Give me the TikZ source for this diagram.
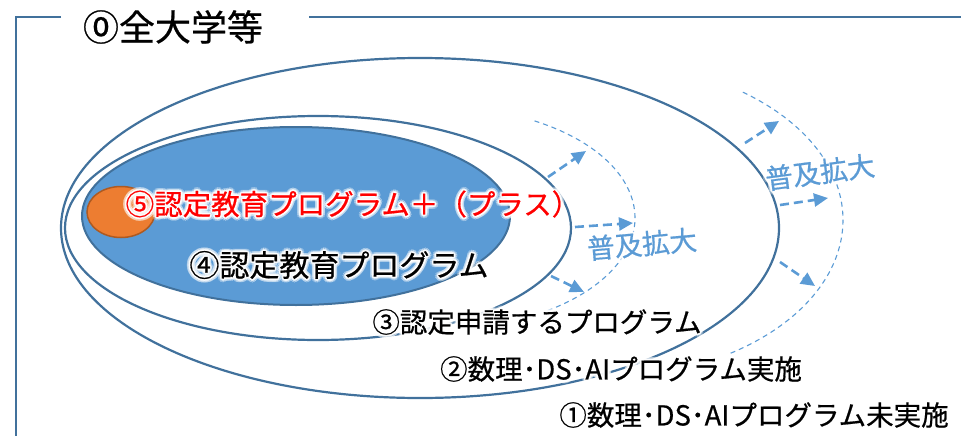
\documentclass[tikz,border=0pt]{standalone}
\usepackage{fontspec}
\setmainfont{Noto Sans CJK JP}[FakeBold=0.6]
\usetikzlibrary{arrows.meta,calc}
\definecolor{lineblue}{HTML}{41719C}
\definecolor{fillblue}{HTML}{5B9BD5}
\definecolor{orfill}{HTML}{ED7D31}
\definecolor{ordraw}{HTML}{AE5A21}
\definecolor{redtxt}{HTML}{FF0000}
\newcommand{\glowlabel}[5]{%
  \foreach \ang in {0,30,...,330}{%
    \node[#3, text=white, opacity=0.3, rotate=#5] (#1-o\ang) at ($(#2)+(\ang:3.6)$) {#4};
    \node[#3, text=white, opacity=0.6, rotate=#5] (#1-i\ang) at ($(#2)+(\ang:1.8)$) {#4};
  }%
  \node[#3, rotate=#5] (#1) at (#2) {#4};
}
\tikzset{
  frameline/.style={draw=lineblue, line width=2.3pt},
  setline/.style={draw=lineblue, line width=2.2pt},
  spread/.style={draw=fillblue, line width=2.6pt, dash pattern=on 9pt off 5pt,
    -{Triangle[length=14pt,width=13pt]}},
  rim/.style={draw=fillblue, line width=1.1pt, dash pattern=on 5pt off 4pt},
  lbl/.style={inner sep=0pt, font=\fontsize{27.5}{30}\selectfont},
  lblbig/.style={inner sep=0pt, font=\fontsize{30}{32}\selectfont},
  lblspread/.style={inner sep=0pt, text=fillblue, font=\fontsize{27.5}{30}\selectfont},
}
\begin{document}
\begin{tikzpicture}[x=1pt,y=-1pt]
\useasboundingbox (0,0) rectangle (961,436);
% frame
\draw[frameline] (61,17) -- (16,17) -- (16,437);
\draw[frameline] (309,17) -- (962,17);
\node[inner sep=0pt, font=\fontsize{36}{38}\selectfont] (title) at (173,27) {⓪全大学等};
% sets
\draw[setline] (420,228) ellipse [x radius=359, y radius=170];
\draw[setline] (318,228) ellipse [x radius=253, y radius=112];
\draw[draw=lineblue, line width=2pt, fill=fillblue] (296,216) ellipse [x radius=214, y radius=89];
\draw[draw=ordraw, line width=1.5pt, fill=orfill] (121,212) ellipse [x radius=34, y radius=25.5];
% dashed rims
\draw[rim] plot[domain=-61:57, samples=80, smooth] ({440+195*cos(\x)},{218+111*sin(\x)});
\draw[rim] plot[domain=-54:58, samples=80, smooth] ({600+243*cos(\x)},{220+158*sin(\x)});
% arrows
\coordinate (a1s) at (548,177); \coordinate (a1e) at (586,151);
\coordinate (a2s) at (575,227); \coordinate (a2e) at (633,223);
\coordinate (a3s) at (551,276); \coordinate (a3e) at (584,292);
\coordinate (b1s) at (745,143); \coordinate (b1e) at (779,121);
\coordinate (b2s) at (780,205); \coordinate (b2e) at (828,198);
\coordinate (b3s) at (780,262); \coordinate (b3e) at (815,286);
\draw[spread] (a1s) -- (a1e);
\draw[spread] (a2s) -- (a2e);
\draw[spread] (a3s) -- (a3e);
\draw[spread] (b1s) -- (b1e);
\draw[spread] (b2s) -- (b2e);
\draw[spread] (b3s) -- (b3e);
% labels
\glowlabel{sp1}{642,244}{lblspread}{普及拡大}{5}
\glowlabel{sp2}{820,172}{lblspread}{普及拡大}{7.5}
\glowlabel{t5}{353,204}{lbl, text=redtxt, font=\fontsize{28.5}{30}\selectfont}{⑤認定教育プログラム＋（プラス）}{0}
\glowlabel{t4}{339,265}{lblbig}{④認定教育プログラム}{0}
\glowlabel{t3}{537,322}{lbl}{③認定申請するプログラム}{0}
\glowlabel{t2}{621,369}{lbl}{②数理･DS･AIプログラム実施}{0}
\glowlabel{t1}{754,415}{lbl}{①数理･DS･AIプログラム未実施}{0}
\end{tikzpicture}
\end{document}
